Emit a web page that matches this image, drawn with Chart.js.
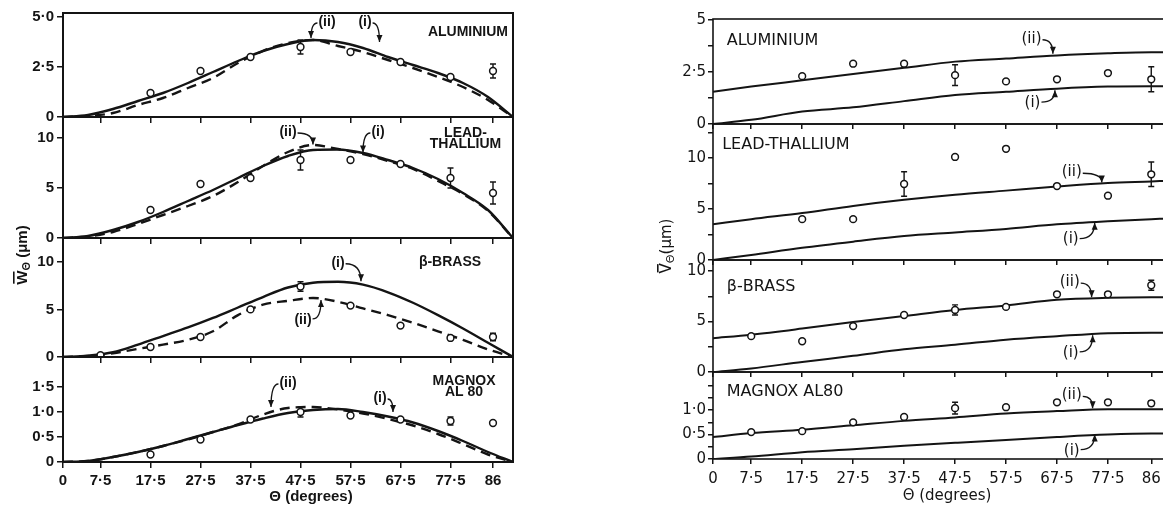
<!DOCTYPE html>
<html>
<head>
<meta charset="utf-8">
<script src="https://cdn.jsdelivr.net/npm/chart.js@4.4.1/dist/chart.umd.min.js"></script>
<style>
  html, body { margin: 0; padding: 0; background: #fff; overflow: hidden; }
  body { width: 1163px; height: 511px; position: relative; }
  canvas { position: absolute; top: 0; }
</style>
</head>
<body>
<canvas id="wAl" width="530" height="511" style="left:0"></canvas>
<canvas id="wPb" width="530" height="511" style="left:0"></canvas>
<canvas id="wBr" width="530" height="511" style="left:0"></canvas>
<canvas id="wMg" width="530" height="511" style="left:0"></canvas>
<canvas id="vAl" width="530" height="511" style="left:640px"></canvas>
<canvas id="vPb" width="530" height="511" style="left:640px"></canvas>
<canvas id="vBr" width="530" height="511" style="left:640px"></canvas>
<canvas id="vMg" width="530" height="511" style="left:640px"></canvas>
<script>
// angles (degrees)
const thetaTicks = [0, 7.5, 17.5, 27.5, 37.5, 47.5, 57.5, 67.5, 77.5, 86];
const thetaW = [0, 5, 10, 15, 20, 25, 30, 35, 40, 45, 50, 55, 60, 65, 70, 75, 80, 85, 90];
const thetaV = [0, 7.5, 17.5, 27.5, 37.5, 47.5, 57.5, 67.5, 77.5, 86, 88.5];
const thetaObs8 = [17.5, 27.5, 37.5, 47.5, 57.5, 67.5, 77.5, 86];
const thetaObs9 = [7.5, 17.5, 27.5, 37.5, 47.5, 57.5, 67.5, 77.5, 86];

// W (um): curves (i) and (ii), measured points, error half-widths
const wAlI = [0, 0.1, 0.4, 0.8, 1.2, 1.7, 2.25, 2.8, 3.3, 3.65, 3.85, 3.75, 3.45, 3.0, 2.6, 2.2, 1.7, 1.0, 0];
const wAlII = [0, 0.05, 0.2, 0.6, 0.95, 1.45, 1.95, 2.7, 3.3, 3.7, 3.85, 3.55, 3.25, 2.85, 2.45, 2.0, 1.5, 0.85, 0];
const wAlObs = [1.2, 2.3, 3.0, 3.5, 3.25, 2.75, 2.0, 2.3];
const wAlErr = [0, 0, 0, 0.35, 0, 0, 0, 0.35];

const wPbI = [0, 0.2, 0.8, 1.6, 2.6, 3.7, 4.8, 6.0, 7.2, 8.2, 8.8, 8.85, 8.5, 7.8, 7.0, 5.9, 4.5, 2.8, 0];
const wPbII = [0, 0.15, 0.6, 1.4, 2.3, 3.2, 4.2, 5.6, 7.2, 8.6, 9.3, 8.9, 8.4, 7.7, 6.9, 5.7, 4.4, 2.7, 0];
const wPbObs = [2.8, 5.4, 6.0, 7.8, 7.8, 7.4, 6.0, 4.5];
const wPbErr = [0, 0, 0, 1.0, 0, 0, 1.0, 1.1];

const wBrI = [0, 0.15, 0.5, 1.3, 2.2, 3.1, 4.1, 5.2, 6.3, 7.3, 7.8, 7.9, 7.6, 6.8, 5.7, 4.4, 3.0, 1.5, 0];
const wBrII = [0, 0.1, 0.4, 0.85, 1.3, 1.8, 2.7, 4.4, 5.5, 5.9, 6.2, 5.8, 5.1, 4.4, 3.6, 2.7, 1.8, 0.8, 0];
const wBrObs = [0.2, 1.05, 2.1, 5.0, 7.4, 5.4, 3.3, 2.0, 2.1];
const wBrErr = [0, 0, 0, 0, 0.5, 0, 0, 0, 0.4];

const wMgI = [0, 0.02, 0.1, 0.2, 0.32, 0.46, 0.6, 0.74, 0.87, 0.98, 1.04, 1.06, 1.0, 0.91, 0.79, 0.62, 0.42, 0.2, 0];
const wMgII = [0, 0.02, 0.1, 0.2, 0.32, 0.45, 0.6, 0.75, 0.95, 1.08, 1.1, 1.05, 0.97, 0.86, 0.73, 0.56, 0.36, 0.15, 0];
const wMgObs = [0.15, 0.45, 0.85, 1.0, 0.93, 0.85, 0.82, 0.78];
const wMgErr = [0, 0, 0, 0.1, 0, 0, 0.08, 0];

// V (um)
const vAlI = [0, 0.2, 0.6, 0.8, 1.1, 1.4, 1.55, 1.7, 1.8, 1.82, 1.82];
const vAlII = [1.55, 1.8, 2.1, 2.4, 2.7, 3.0, 3.15, 3.3, 3.4, 3.45, 3.45];
const vAlObs = [2.3, 2.9, 2.9, 2.35, 2.05, 2.15, 2.45, 2.15];
const vAlErr = [0, 0, 0, 0.5, 0, 0, 0, 0.6];

const vPbI = [0, 0.5, 1.2, 1.8, 2.35, 2.7, 3.05, 3.5, 3.8, 4.0, 4.05];
const vPbII = [3.5, 4.0, 4.6, 5.3, 5.9, 6.4, 6.8, 7.2, 7.55, 7.7, 7.75];
const vPbObs = [4.0, 4.0, 7.45, 10.1, 10.9, 7.25, 6.3, 8.4];
const vPbErr = [0, 0, 1.2, 0, 0, 0, 0, 1.2];

const vBrI = [0, 0.35, 1.0, 1.6, 2.25, 2.7, 3.2, 3.55, 3.85, 3.9, 3.9];
const vBrII = [3.35, 3.7, 4.3, 4.95, 5.55, 6.15, 6.6, 7.15, 7.35, 7.4, 7.4];
const vBrObs = [3.55, 3.05, 4.55, 5.65, 6.15, 6.45, 7.7, 7.7, 8.6];
const vBrErr = [0, 0, 0, 0, 0.5, 0, 0, 0, 0.5];

const vMgI = [0, 0.05, 0.14, 0.2, 0.27, 0.33, 0.39, 0.45, 0.5, 0.52, 0.52];
const vMgII = [0.45, 0.53, 0.6, 0.69, 0.78, 0.85, 0.93, 0.98, 1.02, 1.02, 1.02];
const vMgObs = [0.55, 0.57, 0.75, 0.86, 1.04, 1.06, 1.16, 1.16, 1.14];
const vMgErr = [0, 0, 0, 0, 0.12, 0, 0, 0, 0.05];

const INK = '#141414';
const FONT_L = '"Liberation Sans", Arial, sans-serif';
const FONT_R = '"DejaVu Sans", sans-serif';
const CANVAS_H = 511;

const dot = (s) => String(s).replace('.', '\u00b7');
const fmtY = (v, dec) => (v === 0 ? '0' : dot(v.toFixed(dec)));

// two column styles: W column has a dashed (ii), V column draws both solid
const styleL = {
  font: FONT_L, weight: 'bold', tickSize: 15, nameSize: 14, noteSize: 14,
  plotLeft: 63, plotRight: 513, xMax: 90, yW: 45, tickLen: 6, tickPad: 3, xPad: 4,
  frame: 2, curveW: 2.4, dash: [10, 6], canvasW: 530
};
const styleR = {
  font: FONT_R, weight: 'normal', tickSize: 15, nameSize: 16, noteSize: 15,
  plotLeft: 73, plotRight: 524, xMax: 88.5, yW: 40, tickLen: 5, tickPad: 2, xPad: 6,
  frame: 1.6, curveW: 2.0, dash: null, canvasW: 530
};

const panels = [
  { id: 'wAl', st: styleL, top: 13, bottom: 117, yMax: 5.2, yTicks: [0, 2.5, 5], yLab: [0, 2.5, 5], yDec: 1,
    theta: thetaW, cI: wAlI, cII: wAlII, obsT: thetaObs8, obs: wAlObs, err: wAlErr,
    name: { lines: ['ALUMINIUM'], at: [89, 4.25], align: 'right', step: 0 },
    notes: [{ text: '(ii)', at: [52.8, 4.75], tip: [49.6, 3.95] }, { text: '(i)', at: [60.4, 4.75], tip: [63.3, 3.75] }] },
  { id: 'wPb', st: styleL, top: 117, bottom: 238, yMax: 12.1, yTicks: [0, 5, 10], yLab: [0, 5, 10], yDec: 0,
    theta: thetaW, cI: wPbI, cII: wPbII, obsT: thetaObs8, obs: wPbObs, err: wPbErr,
    name: { lines: ['LEAD-', 'THALLIUM'], at: [80.5, 10.5], align: 'center', step: 11 },
    notes: [{ text: '(ii)', at: [45, 10.6], tip: [50, 9.35] }, { text: '(i)', at: [63, 10.6], tip: [60, 8.55] }] },
  { id: 'wBr', st: styleL, top: 238, bottom: 357, yMax: 12.5, yTicks: [0, 5, 10], yLab: [0, 5, 10], yDec: 0,
    theta: thetaW, cI: wBrI, cII: wBrII, obsT: thetaObs9, obs: wBrObs, err: wBrErr,
    name: { lines: ['\u03b2-BRASS'], at: [77.4, 10.0], align: 'center', step: 0 },
    notes: [{ text: '(i)', at: [55, 9.9], tip: [59.6, 7.95] }, { text: '(ii)', at: [48, 3.9], tip: [51.6, 6.0] }],
    yTitle: { main: 'W', sub: '\u0398', rest: ' (\u03bcm)', x: 22, y: 255 } },
  { id: 'wMg', st: styleL, top: 357, bottom: 462, yMax: 2.1, yTicks: [0, 0.5, 1, 1.5], yLab: [0, 0.5, 1, 1.5], yDec: 1,
    theta: thetaW, cI: wMgI, cII: wMgII, obsT: thetaObs8, obs: wMgObs, err: wMgErr,
    name: { lines: ['MAGNOX', 'AL 80'], at: [80.2, 1.62], align: 'center', step: 11 },
    notes: [{ text: '(ii)', at: [45, 1.58], tip: [41.6, 1.1] }, { text: '(i)', at: [63.4, 1.28], tip: [66, 1.0] }],
    bottomAxis: true, xTitle: { text: '\u0398 (degrees)', x: 311, y: 497 } },

  { id: 'vAl', st: styleR, top: 19, bottom: 124, yMax: 5.05, yTicks: [0, 1.25, 2.5, 3.75, 5], yLab: [0, 2.5, 5], yDec: -1,
    theta: thetaV, cI: vAlI, cII: vAlII, obsT: thetaObs8, obs: vAlObs, err: vAlErr,
    name: { lines: ['ALUMINIUM'], at: [2.7, 4.0], align: 'left', step: 0 },
    notes: [{ text: '(ii)', at: [62.5, 4.1], tip: [66.7, 3.38] }, { text: '(i)', at: [62.7, 1.0], tip: [67.1, 1.62] }] },
  { id: 'vPb', st: styleR, top: 124, bottom: 260, yMax: 13.33, yTicks: [0, 2.5, 5, 7.5, 10, 12.5], yLab: [0, 5, 10], yDec: 0,
    theta: thetaV, cI: vPbI, cII: vPbII, obsT: thetaObs8, obs: vPbObs, err: vPbErr,
    name: { lines: ['LEAD-THALLIUM'], at: [1.8, 11.3], align: 'left', step: 0 },
    notes: [{ text: '(ii)', at: [70.4, 8.6], tip: [76.3, 7.6] }, { text: '(i)', at: [70.2, 2.0], tip: [74.9, 3.65] }] },
  { id: 'vBr', st: styleR, top: 260, bottom: 372, yMax: 11.1, yTicks: [0, 2.5, 5, 7.5, 10], yLab: [0, 5, 10], yDec: 0,
    theta: thetaV, cI: vBrI, cII: vBrII, obsT: thetaObs9, obs: vBrObs, err: vBrErr,
    name: { lines: ['\u03b2-BRASS'], at: [2.7, 8.4], align: 'left', step: 0 },
    notes: [{ text: '(ii)', at: [70, 8.9], tip: [74.3, 7.4] }, { text: '(i)', at: [70.2, 1.9], tip: [74.5, 3.65] }],
    yTitle: { main: 'V', sub: '\u0398', rest: '(\u03bcm)', x: 26, y: 246 } },
  { id: 'vMg', st: styleR, top: 372, bottom: 459, yMax: 1.78, yTicks: [0, 0.25, 0.5, 0.75, 1, 1.25, 1.5], yLab: [0, 0.5, 1], yDec: 1,
    theta: thetaV, cI: vMgI, cII: vMgII, obsT: thetaObs9, obs: vMgObs, err: vMgErr,
    name: { lines: ['MAGNOX AL80'], at: [2.7, 1.37], align: 'left', step: 0 },
    notes: [{ text: '(ii)', at: [70.4, 1.3], tip: [74.5, 1.04] }, { text: '(i)', at: [70.4, 0.17], tip: [74.9, 0.5] }],
    bottomAxis: true, xTitle: { text: '\u0398 (degrees)', x: 307, y: 496 } }
];

function fontOf(st, size) {
  return st.weight + ' ' + size + 'px ' + st.font;
}

function drawNote(ctx, x, y, n, st) {
  const tx = x.getPixelForValue(n.at[0]), ty = y.getPixelForValue(n.at[1]);
  const hx = x.getPixelForValue(n.tip[0]), hy = y.getPixelForValue(n.tip[1]);
  ctx.font = fontOf(st, st.noteSize);
  ctx.textAlign = 'center';
  ctx.textBaseline = 'middle';
  ctx.fillText(n.text, tx, ty);
  const w = ctx.measureText(n.text).width;
  const sx = hx > tx ? tx + w / 2 + 1 : tx - w / 2 - 1;
  const sy = ty + (hy > ty ? 1 : -1);
  const cx = hx, cy = sy;
  ctx.lineWidth = 1.3;
  ctx.beginPath();
  ctx.moveTo(sx, sy);
  ctx.quadraticCurveTo(cx, cy, hx, hy);
  ctx.stroke();
  // arrow head
  const ang = Math.atan2(hy - cy, hx - cx);
  const L = 7, W = 3;
  ctx.beginPath();
  ctx.moveTo(hx, hy);
  ctx.lineTo(hx - L * Math.cos(ang) + W * Math.sin(ang), hy - L * Math.sin(ang) - W * Math.cos(ang));
  ctx.lineTo(hx - L * Math.cos(ang) - W * Math.sin(ang), hy - L * Math.sin(ang) + W * Math.cos(ang));
  ctx.closePath();
  ctx.fill();
}

function drawYTitle(ctx, t, st) {
  const big = fontOf(st, 15), small = fontOf(st, 11);
  ctx.save();
  ctx.translate(t.x, t.y);
  ctx.rotate(-Math.PI / 2);
  ctx.textAlign = 'left';
  ctx.textBaseline = 'alphabetic';
  ctx.font = big;
  const wMain = ctx.measureText(t.main).width;
  const wRest = ctx.measureText(t.rest).width;
  ctx.font = small;
  const wSub = ctx.measureText(t.sub).width;
  let cx = -(wMain + wSub + wRest) / 2;
  const base = 5;
  ctx.font = big;
  ctx.fillText(t.main, cx, base);
  // bar over the symbol
  ctx.fillRect(cx + 1, base - 14, wMain - 2, 1.6);
  cx += wMain;
  ctx.font = small;
  ctx.fillText(t.sub, cx, base + 3);
  cx += wSub;
  ctx.font = big;
  ctx.fillText(t.rest, cx, base);
  ctx.restore();
}

function decor(p) {
  const st = p.st;
  return {
    id: 'decor_' + p.id,
    beforeDatasetsDraw(chart) {
      // error bars under the open circles
      const { ctx, scales: { x, y } } = chart;
      ctx.save();
      ctx.strokeStyle = INK;
      ctx.lineWidth = 1.4;
      chart.data.datasets.forEach((ds) => {
        if (!ds.errors) return;
        ds.data.forEach((pt, i) => {
          const e = ds.errors[i];
          if (!e) return;
          const px = x.getPixelForValue(pt.x);
          const t = y.getPixelForValue(pt.y + e), b = y.getPixelForValue(pt.y - e);
          ctx.beginPath();
          ctx.moveTo(px, t); ctx.lineTo(px, b);
          ctx.moveTo(px - 3, t); ctx.lineTo(px + 3, t);
          ctx.moveTo(px - 3, b); ctx.lineTo(px + 3, b);
          ctx.stroke();
        });
      });
      ctx.restore();
    },
    afterDraw(chart) {
      const { ctx, chartArea: a, scales: { x, y } } = chart;
      ctx.save();
      ctx.strokeStyle = INK;
      ctx.fillStyle = INK;
      ctx.lineWidth = st.frame;
      ctx.strokeRect(a.left, a.top, a.right - a.left, a.bottom - a.top);

      ctx.font = fontOf(st, st.nameSize);
      ctx.textAlign = p.name.align;
      ctx.textBaseline = 'middle';
      p.name.lines.forEach((s, i) => {
        ctx.fillText(s, x.getPixelForValue(p.name.at[0]), y.getPixelForValue(p.name.at[1]) + i * p.name.step);
      });

      p.notes.forEach((n) => drawNote(ctx, x, y, n, st));

      if (p.xTitle) {
        ctx.font = fontOf(st, 15);
        ctx.textAlign = 'center';
        ctx.textBaseline = 'middle';
        ctx.fillText(p.xTitle.text, p.xTitle.x, p.xTitle.y);
      }
      if (p.yTitle) drawYTitle(ctx, p.yTitle, st);
      ctx.restore();
    }
  };
}

function curve(thetas, vals, dash, st) {
  return {
    data: thetas.map((t, i) => ({ x: t, y: vals[i] })),
    showLine: true,
    borderColor: INK,
    borderWidth: st.curveW,
    borderDash: dash || [],
    pointRadius: 0,
    cubicInterpolationMode: 'monotone',
    fill: false
  };
}

function points(thetas, vals, errs) {
  return {
    data: thetas.map((t, i) => ({ x: t, y: vals[i] })),
    errors: errs,
    showLine: false,
    pointRadius: 3.4,
    pointBorderWidth: 1.5,
    pointBorderColor: INK,
    pointBackgroundColor: '#fff'
  };
}

Chart.defaults.color = INK;

panels.forEach((p) => {
  const st = p.st;
  const xH = p.bottomAxis ? CANVAS_H - p.bottom : st.tickLen;
  new Chart(document.getElementById(p.id), {
    type: 'scatter',
    data: {
      datasets: [
        points(p.obsT, p.obs, p.err),
        curve(p.theta, p.cI, null, st),
        curve(p.theta, p.cII, st.dash, st)
      ]
    },
    options: {
      responsive: false,
      animation: false,
      events: [],
      layout: {
        padding: {
          left: st.plotLeft - st.yW,
          right: st.canvasW - st.plotRight,
          top: p.top,
          bottom: CANVAS_H - p.bottom - xH
        }
      },
      plugins: { legend: { display: false }, tooltip: { enabled: false } },
      scales: {
        x: {
          type: 'linear',
          min: 0,
          max: st.xMax,
          afterBuildTicks: (s) => { s.ticks = thetaTicks.map((v) => ({ value: v })); },
          afterFit: (s) => { s.height = xH; },
          border: { display: false },
          grid: { drawOnChartArea: false, drawTicks: true, tickLength: st.tickLen, color: INK, lineWidth: 1.5 },
          ticks: {
            display: !!p.bottomAxis,
            autoSkip: false,
            maxRotation: 0,
            padding: st.xPad,
            color: INK,
            font: { family: st.font, size: st.tickSize, weight: st.weight },
            callback: (v) => dot(v)
          }
        },
        y: {
          type: 'linear',
          min: 0,
          max: p.yMax,
          afterBuildTicks: (s) => { s.ticks = p.yTicks.map((v) => ({ value: v })); },
          afterFit: (s) => { s.width = st.yW; },
          border: { display: false },
          grid: { drawOnChartArea: false, drawTicks: true, tickLength: st.tickLen, color: INK, lineWidth: 1.5 },
          ticks: {
            autoSkip: false,
            padding: st.tickPad,
            color: INK,
            font: { family: st.font, size: st.tickSize, weight: st.weight },
            callback: (v) => {
              if (!p.yLab.includes(v)) return '';
              if (p.yDec < 0) return Number.isInteger(v) ? String(v) : dot(v);
              return fmtY(v, p.yDec);
            }
          }
        }
      }
    },
    plugins: [decor(p)]
  });
});
</script>
</body>
</html>
